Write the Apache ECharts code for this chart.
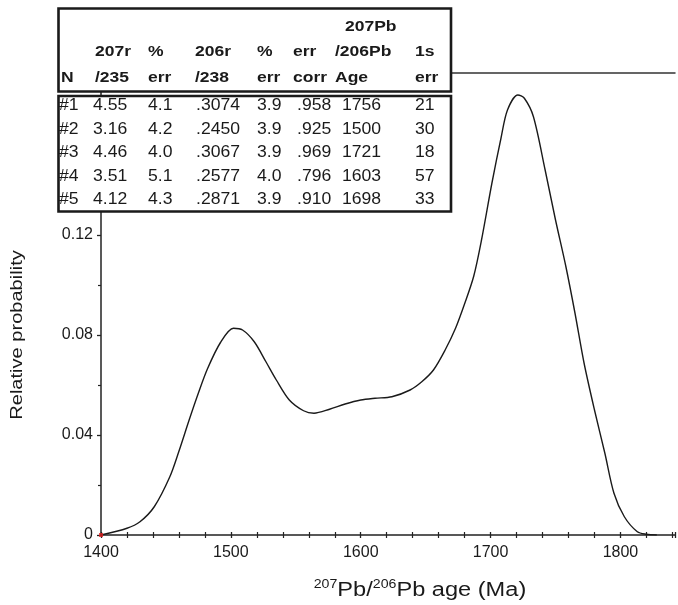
<!DOCTYPE html>
<html>
<head>
<meta charset="utf-8">
<script src="https://cdn.jsdelivr.net/npm/echarts@6/dist/echarts.min.js"></script>
<style>
html,body{margin:0;padding:0;background:#fff;}
#chart{width:678px;height:605px;}
</style>
</head>
<body>
<div id="chart"></div>
<script>
// ---- data ----
const ageMa = [1400, 1420, 1430, 1441, 1453, 1460, 1468, 1475, 1482, 1492, 1502, 1509, 1518, 1527, 1535, 1545, 1556, 1564, 1576, 1588, 1600, 1611, 1624, 1638, 1647, 1656, 1665, 1673, 1680, 1687, 1693, 1701, 1708, 1713, 1721, 1726, 1733, 1742, 1750, 1758, 1765, 1772, 1780, 1788, 1795, 1803, 1813, 1820, 1828];
const relProb = [0, 0.0027, 0.0053, 0.0113, 0.0233, 0.0335, 0.0462, 0.0568, 0.0665, 0.077, 0.0827, 0.082, 0.0773, 0.0693, 0.062, 0.054, 0.0497, 0.0487, 0.0503, 0.0524, 0.054, 0.0547, 0.0553, 0.058, 0.0613, 0.066, 0.074, 0.0827, 0.0925, 0.1035, 0.118, 0.1407, 0.1587, 0.17, 0.176, 0.1747, 0.1673, 0.146, 0.126, 0.1073, 0.0887, 0.0687, 0.05, 0.0327, 0.0167, 0.0073, 0.0013, 0.0003, 0];
const originMark = [[1400, 0]];
const xTicks = [1400, 1500, 1600, 1700, 1800];
const yTicks = [0, 0.04, 0.08, 0.12];
const yTitle = 'Relative probability';
const xTitleParts = ['207', 'Pb/', '206', 'Pb age (Ma)'];

const headRow1 = ['', '', '', '', '', '', '207Pb', ''];
const headRow2 = ['', '207r', '%', '206r', '%', 'err', '/206Pb', '1s'];
const headRow3 = ['N', '/235', 'err', '/238', 'err', 'corr', 'Age', 'err'];
const tableRows = [
  ['#1', '4.55', '4.1', '.3074', '3.9', '.958', '1756', '21'],
  ['#2', '3.16', '4.2', '.2450', '3.9', '.925', '1500', '30'],
  ['#3', '4.46', '4.0', '.3067', '3.9', '.969', '1721', '18'],
  ['#4', '3.51', '5.1', '.2577', '4.0', '.796', '1603', '57'],
  ['#5', '4.12', '4.3', '.2871', '3.9', '.910', '1698', '33']
];

// ---- layout ----
const headX = [61, 95, 148, 195, 257, 293, 335, 415];
const headX1 = [0, 0, 0, 0, 0, 0, 345, 0];
const headY = [27, 52, 78];
const dataX = [59, 93, 148, 196, 257, 297, 342, 415];
const dataY = [106, 129.5, 153, 176.5, 200];
const FONT = '"Liberation Sans", Arial, sans-serif';

const chart = echarts.init(document.getElementById('chart'));

const graphics = [];
// table frames
graphics.push({type:'rect', z:100, shape:{x:58.5, y:8.5, width:392.5, height:83}, style:{fill:'#fff', stroke:'#1a1a1a', lineWidth:2.6}});
graphics.push({type:'rect', z:100, shape:{x:58.5, y:96, width:392.5, height:115.5}, style:{fill:'#fff', stroke:'#1a1a1a', lineWidth:2.6}});
function addText(txt, x, y, bold, size, sx) {
  if (!txt) return;
  graphics.push({type:'text', z:101, x:x, y:y, scaleX:sx,
    style:{text:txt, fontFamily:FONT, fontSize:size, fontWeight: bold ? 'bold' : 'normal', fill:'#1a1a1a',
      align:'left', verticalAlign:'middle', textAlign:'left', textVerticalAlign:'middle'}});
}
headRow1.forEach((t,i)=>addText(t, headX1[i], headY[0], true, 14, 1.25));
headRow2.forEach((t,i)=>addText(t, headX[i], headY[1], true, 14, 1.25));
headRow3.forEach((t,i)=>addText(t, headX[i], headY[2], true, 14, 1.25));
tableRows.forEach((row,r)=>row.forEach((t,i)=>addText(t, dataX[i], dataY[r], false, 16, 1.1)));

// axis titles
graphics.push({type:'text', z:50, x:17, y:335, rotation:Math.PI/2, scaleX:1.18,
  style:{text:yTitle, fontFamily:FONT, fontSize:17, fill:'#1a1a1a', align:'center', verticalAlign:'middle', textAlign:'center', textVerticalAlign:'middle'}});
graphics.push({type:'text', z:50, x:420, y:590, scaleX:1.18,
  style:{text:'{s|' + xTitleParts[0] + '}{m|' + xTitleParts[1] + '}{s|' + xTitleParts[2] + '}{m|' + xTitleParts[3] + '}',
    fontFamily:FONT, fill:'#1a1a1a', align:'center', verticalAlign:'middle', textAlign:'center', textVerticalAlign:'middle',
    rich:{ s:{fontSize:12, fontFamily:FONT, fill:'#1a1a1a', verticalAlign:'top', padding:[0,0,10,0]}, m:{fontSize:20, fontFamily:FONT, fill:'#1a1a1a'} }}});

const axisColor = '#222';
chart.setOption({
  animation:false,
  backgroundColor:'#fff',
  grid:{left:101, right:0, top:73, bottom:70},
  xAxis:[
    {type:'value', min:1400, max:1842, interval:100, position:'bottom',
      axisLine:{show:true, onZero:false, lineStyle:{color:axisColor, width:1.5}},
      axisTick:{show:true, inside:false, length:3, lineStyle:{color:axisColor, width:1.3}},
      minorTick:{show:true, splitNumber:5, length:3, lineStyle:{color:axisColor, width:1.2}},
      splitLine:{show:false},
      axisLabel:{show:true, margin:10, fontFamily:FONT, fontSize:16, color:'#1a1a1a',
        formatter:v => xTicks.indexOf(v) >= 0 ? String(v) : ''}},
    {type:'value', min:1400, max:1842, interval:100, position:'bottom',
      axisLine:{show:false}, axisLabel:{show:false}, splitLine:{show:false},
      axisTick:{show:true, inside:true, length:3, lineStyle:{color:axisColor, width:1.3}},
      minorTick:{show:true, splitNumber:5, length:3, lineStyle:{color:axisColor, width:1.2}}},
    {type:'value', min:1400, max:1842, position:'top',
      axisLine:{show:true, onZero:false, lineStyle:{color:'#333', width:1.5}},
      axisTick:{show:false}, axisLabel:{show:false}, splitLine:{show:false}}
  ],
  yAxis:[
    {type:'value', min:0, max:0.1848, interval:0.04,
      axisLine:{show:true, onZero:false, lineStyle:{color:axisColor, width:1.5}},
      axisTick:{show:true, inside:false, length:4, lineStyle:{color:axisColor, width:1.3}},
      minorTick:{show:true, splitNumber:2, length:3, lineStyle:{color:axisColor, width:1.2}},
      splitLine:{show:false},
      axisLabel:{show:true, margin:8, fontFamily:FONT, fontSize:16, color:'#1a1a1a',
        formatter:v => { const t = yTicks.find(k => Math.abs(k - v) < 1e-9); return t === undefined ? '' : (t === 0 ? '0' : t.toFixed(2)); }}}
  ],
  series:[
    {type:'line', xAxisIndex:0, yAxisIndex:0, data: ageMa.map((a,i)=>[a, relProb[i]]),
      showSymbol:false, smooth:0.3, lineStyle:{color:'#1a1a1a', width:1.4}, z:5},
    {type:'scatter', xAxisIndex:0, yAxisIndex:0, data: originMark, symbol:'rect', symbolSize:4,
      itemStyle:{color:'#e02020'}, z:6}
  ],
  graphic:{elements:graphics}
});
</script>
</body>
</html>
